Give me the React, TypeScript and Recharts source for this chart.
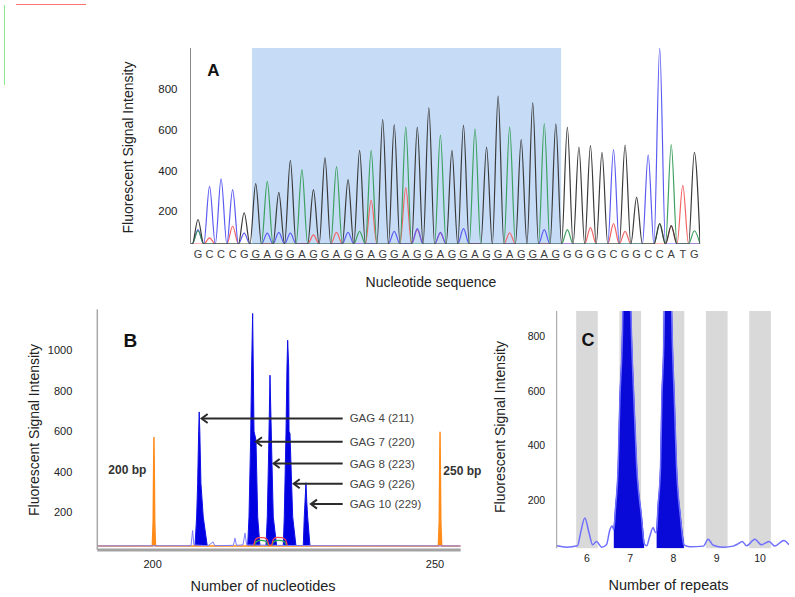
import React from "react";
import {
  LineChart,
  ComposedChart,
  Line,
  Area,
  XAxis,
  YAxis,
  ReferenceArea,
  ReferenceLine,
} from "recharts";

const FONT = '"Liberation Sans", Arial, Helvetica, sans-serif';
const W = 795;
const H = 597;

// ---------- Panel A: sequencing chromatogram ----------
// one base call per position, and the height of its peak
const seqLetters = ("GCCCG" + "GAGGAGGAGGAGGAGGAGGAGGAGGAG" + "GGGGCGGCCATG").split("");
const peakHeights = [
  160, 322, 359, 306, 193, 336, 347, 293, 450, 404, 306, 463, 419, 355, 499, 499,
  650, 625, 614, 612, 707, 573, 499, 622, 604, 515, 764, 614, 551, 731, 630, 628,
  612, 515, 522, 489, 502, 525, 268, 477, 1000, 527, 327, 489,
];
// small background peaks per dye: [position, height]
const minorG = [[40, 140], [41, 130]];
const minorA = [[0, 105], [14, 102], [32, 110], [40, 140], [43, 105]];
const minorC = [[0, 110], [4, 93], [6, 93], [7, 97], [8, 93], [13, 97], [17, 102], [19, 115], [21, 97], [23, 115], [30, 110]];
const minorT = [[1, 70], [3, 127], [10, 85], [12, 97], [15, 254], [18, 316], [19, 110], [21, 93], [27, 95], [34, 120], [36, 140], [37, 102], [41, 127]];
const repeatStart = 5;
const repeatEnd = 31;

const dyes = [
  { base: "T", color: "#f26464", minor: minorT },
  { base: "C", color: "#5b5bf2", minor: minorC },
  { base: "A", color: "#3ca05e", minor: minorA },
  { base: "G", color: "#3a3a3a", minor: minorG },
];
const A_BASE = 40;

function dyeTrace(base: string, minor: number[][]) {
  const pts = [{ x: -0.65, y: A_BASE }];
  seqLetters.forEach((b, i) => {
    let h = b === base ? peakHeights[i] : A_BASE;
    const m = minor.find(([j]) => j === i);
    if (m && m[1] > h) h = m[1];
    pts.push({ x: i - 0.5, y: A_BASE }, { x: i, y: h });
  });
  pts.push({ x: 43.5, y: A_BASE });
  return pts;
}

const SeqTick = (props: any) => {
  const { x, y, payload } = props;
  const i = payload.value as number;
  const inRepeat = i >= repeatStart && i <= repeatEnd;
  const groupEnd = inRepeat && (i - repeatStart) % 3 === 2;
  return (
    <g>
      <text x={x} y={y + 13.5} textAnchor="middle" fontSize={11} fill="#3c3c3c" fontFamily={FONT}>
        {seqLetters[i]}
      </text>
      {inRepeat && (
        <line x1={x - 5.8} x2={groupEnd ? x + 3.5 : x + 5.8} y1={y + 15.5} y2={y + 15.5} stroke="#444" strokeWidth={1} />
      )}
    </g>
  );
};

// ---------- Panel B: fragment sizing ----------
const bTicks = [200, 250];
const bBlueTrace = [
  [190.2, 35], [206.8, 36], [207.08, 111], [207.3, 40], [209.8, 36], [210.7, 55], [211.0, 36],
  [214.3, 38], [214.58, 73], [214.85, 38], [216.0, 40], [216.35, 98], [216.65, 40], [228.2, 36], [254.55, 35],
];
const bPeakGag4 = [[207.5, 35], [207.79, 178], [207.97, 343], [208.15, 600], [208.25, 695], [208.35, 600], [208.55, 343], [208.96, 178], [209.67, 35]];
const bPeakGag7 = [[216.83, 35], [217.06, 178], [217.35, 556], [217.53, 917], [217.71, 1180], [217.82, 917], [217.95, 600], [218.3, 556], [218.6, 178], [219.0, 35]];
const bPeakGag8 = [[220.07, 35], [220.3, 178], [220.55, 507], [220.78, 876], [221.08, 507], [221.36, 178], [221.96, 35]];
const bPeakGag9 = [[223.13, 35], [223.31, 178], [223.61, 589], [223.79, 917], [223.91, 1048], [224.09, 917], [224.15, 600], [224.32, 589], [224.8, 178], [225.38, 35]];
const bPeakGag10 = [[226.67, 35], [226.85, 178], [227.15, 346], [227.3, 250], [227.45, 178], [227.86, 35]];
const bSizeStd = [
  [190.2, 35], [199.95, 35], [200.1, 160], [200.23, 572], [200.36, 160], [200.5, 35],
  [250.6, 35], [250.76, 160], [250.89, 597], [251.02, 160], [251.18, 35], [254.55, 35],
];
const bRed = [[217.9, 36], [218.2, 66], [218.8, 76], [219.6, 76], [220.3, 66], [220.6, 38], [221.05, 38], [221.35, 66], [222.0, 77], [222.9, 76], [223.5, 66], [223.85, 38]];
const bGreen = [[218.0, 36], [218.3, 55], [219.2, 62], [220.1, 57], [220.5, 38], [221.1, 38], [221.4, 55], [222.3, 62], [223.3, 57], [223.7, 38]];
const gagLabels = ["GAG 4 (211)", "GAG 7 (220)", "GAG 8 (223)", "GAG 9 (226)", "GAG 10 (229)"];
const gagTipX = [208.5, 218.12, 221.25, 224.8, 227.86];
const gagArrowY = [663, 548, 441, 341, 241];
const ARROW_TAIL = 233.65;

// ---------- Panel C: repeat number ----------
const cTicks = [6, 7, 8, 9, 10];
const cLead = [[5.3, 31], [5.53, 26], [5.78, 31], [5.85, 77], [5.95, 133], [6.05, 77], [6.13, 35], [6.22, 47], [6.34, 26], [6.45, 35], [6.53, 90], [6.58, 104]];
const cPeak7 = [[6.62, 90], [6.66, 170], [6.72, 322], [6.76, 567], [6.82, 813], [6.86, 1200], [6.89, 1500], [6.93, 1500], [6.97, 1200], [7.03, 800], [7.085, 567], [7.15, 322], [7.26, 138], [7.32, 40]];
const cMid = [[7.38, 31], [7.45, 65], [7.53, 98], [7.58, 80]];
const cPeak8 = [[7.61, 80], [7.64, 170], [7.7, 322], [7.73, 567], [7.78, 813], [7.81, 1200], [7.84, 1500], [7.88, 1500], [7.92, 1200], [7.97, 800], [8.02, 567], [8.07, 322], [8.16, 138], [8.24, 35]];
const cTail = [[8.38, 28], [8.69, 30], [8.8, 55], [8.92, 33], [9.15, 26], [9.38, 30], [9.49, 38], [9.59, 47], [9.69, 31], [9.88, 55], [10.03, 35], [10.21, 47], [10.34, 30], [10.55, 51], [10.67, 35]];

const pts = (arr: number[][]) => arr.map(([x, y]) => ({ x, y }));

const arrowShape = (label: string) => (p: any) => {
  const { x1, y1, x2 } = p;
  return (
    <g>
      <line x1={x1} y1={y1} x2={x2 + 1} y2={y1} stroke="#2b2b2b" strokeWidth={2} />
      <polyline points={`${x2 + 7},${y1 - 4.5} ${x2 + 1},${y1} ${x2 + 7},${y1 + 4.5}`} fill="none" stroke="#2b2b2b" strokeWidth={2} />
      <text x={x1 + 7} y={y1 + 4} fontSize={11.5} fill="#444" fontFamily={FONT}>
        {label}
      </text>
    </g>
  );
};

const layer: React.CSSProperties = { position: "absolute", left: 0, top: 0 };

export default function App() {
  const tickStyle = { fontSize: 11.5, fill: "#222", fontFamily: FONT };
  return (
    <div style={{ position: "absolute", left: 0, top: 0, width: W, height: H, background: "#fff", overflow: "hidden" }}>
      <div style={{ position: "absolute", left: 16, top: 4, width: 70, height: 1, background: "#ff7070" }} />
      <div style={{ position: "absolute", left: 4, top: 5, width: 1, height: 80, background: "#90e890" }} />

      {/* A */}
      <div style={layer}>
        <LineChart width={W} height={H} margin={{ top: 48, right: 94.9, bottom: H - 244 - 30, left: 0 }}>
          <XAxis type="number" dataKey="x" domain={[-0.65, 43.5]} ticks={seqLetters.map((_, i) => i)} interval={0}
            tick={(p: any) => <SeqTick {...p} />} axisLine={false} tickLine={false} tickSize={0} tickMargin={0} height={30} allowDataOverflow />
          <YAxis type="number" domain={[A_BASE, 1000]} ticks={[200, 400, 600, 800]} width={190.5} allowDataOverflow
            axisLine={{ stroke: "#8a8a8a" }} tickLine={false} tickSize={0} tickMargin={13} tick={tickStyle} />
          <ReferenceArea x1={4.68} x2={31.46} fill="#c6dcf6" fillOpacity={1} stroke="none" />
          {dyes.map((d) => (
            <Line key={d.base} data={dyeTrace(d.base, d.minor)} dataKey="y" type="monotone" stroke={d.color}
              strokeWidth={1.2} dot={false} activeDot={false} isAnimationActive={false} />
          ))}
        </LineChart>
      </div>

      {/* B */}
      <div style={layer}>
        <ComposedChart width={W} height={H} margin={{ top: 309.4, right: 334.3, bottom: 17, left: 0 }}>
          <XAxis type="number" dataKey="x" domain={[190.2, 254.55]} ticks={bTicks} interval={0} allowDataOverflow
            axisLine={{ stroke: "#a3a3a3", strokeWidth: 3 }} tickLine={false} tickSize={0} tickMargin={10} height={30} tick={{ ...tickStyle, fontSize: 11 }} />
          <YAxis type="number" domain={[15, 1200]} ticks={[200, 400, 600, 800, 1000]} width={97.3} allowDataOverflow
            axisLine={{ stroke: "#a8a8a8", strokeWidth: 1.5 }} tickLine={false} tickSize={0} tickMargin={25} tick={{ ...tickStyle, fontSize: 11 }} />
          <Line data={pts(bBlueTrace)} dataKey="y" type="linear" stroke="#7b7bff" strokeWidth={1} dot={false} activeDot={false} isAnimationActive={false} />
          {[bPeakGag4, bPeakGag7, bPeakGag8, bPeakGag9, bPeakGag10].map((pk, i) => (
            <Area key={i} data={pts(pk)} dataKey="y" type="linear" baseValue={35} fill="#0000e0" fillOpacity={1}
              stroke="#1010e8" strokeWidth={1} dot={false} activeDot={false} isAnimationActive={false} />
          ))}
          <Line data={pts(bGreen)} dataKey="y" type="monotone" stroke="#2aa84a" strokeWidth={1.2} dot={false} activeDot={false} isAnimationActive={false} />
          <Line data={pts(bRed)} dataKey="y" type="monotone" stroke="#ff4848" strokeWidth={1.2} dot={false} activeDot={false} isAnimationActive={false} />
          <Area data={pts(bSizeStd)} dataKey="y" type="linear" baseValue={35} fill="#ff8c1a" fillOpacity={1}
            stroke="#ff8c1a" strokeWidth={1.5} dot={false} activeDot={false} isAnimationActive={false} />
          {gagLabels.map((lab, i) => (
            <ReferenceLine key={lab} segment={[{ x: ARROW_TAIL, y: gagArrowY[i] }, { x: gagTipX[i], y: gagArrowY[i] }]}
              shape={arrowShape(lab)} />
          ))}
        </ComposedChart>
      </div>

      {/* C */}
      <div style={layer}>
        <ComposedChart width={W} height={H} margin={{ top: 311, right: 6, bottom: 18.7, left: 0 }}>
          <XAxis type="number" dataKey="x" domain={[5.3, 10.67]} ticks={cTicks} interval={0} allowDataOverflow
            axisLine={false} tickLine={false} tickSize={0} tickMargin={6} height={30} tick={{ ...tickStyle, fontSize: 10.5 }} />
          <YAxis type="number" domain={[22, 894]} ticks={[200, 400, 600, 800]} width={556.7} allowDataOverflow
            axisLine={{ stroke: "#9a9a9a" }} tickLine={false} tickSize={0} tickMargin={11.5} tick={{ ...tickStyle, fontSize: 10.5 }} />
          {cTicks.map((n) => (
            <ReferenceArea key={n} x1={n - 0.25} x2={n + 0.25} fill="#d9d9d9" fillOpacity={1} stroke="none" />
          ))}
          <Line data={pts([...cLead, ...cPeak7, ...cMid, ...cPeak8, ...cTail])} dataKey="y" type="monotone" stroke="#6f6fff"
            strokeWidth={1.5} dot={false} activeDot={false} isAnimationActive={false} />
          {[cPeak7, cPeak8].map((pk, i) => (
            <Area key={i} data={pts(pk)} dataKey="y" type="monotone" baseValue={22} fill="#0a0ad8" fillOpacity={1}
              stroke="#0a0ad8" strokeWidth={1} dot={false} activeDot={false} isAnimationActive={false} />
          ))}
        </ComposedChart>
      </div>

      {/* titles and panel labels */}
      <svg width={W} height={H} style={{ ...layer, pointerEvents: "none" }} fontFamily={FONT}>
        <text x={213.3} y={76} textAnchor="middle" fontSize={17} fontWeight="bold" fill="#111">A</text>
        <text x={130.3} y={346.7} textAnchor="middle" fontSize={19} fontWeight="bold" fill="#111">B</text>
        <text x={588} y={346} textAnchor="middle" fontSize={18} fontWeight="bold" fill="#111">C</text>

        <text x={133} y={147.5} transform="rotate(-90 133 147.5)" textAnchor="middle" fontSize={14} fill="#222">Fluorescent Signal Intensity</text>
        <text x={39} y={430} transform="rotate(-90 39 430)" textAnchor="middle" fontSize={14} fill="#222">Fluorescent Signal Intensity</text>
        <text x={505} y={427} transform="rotate(-90 505 427)" textAnchor="middle" fontSize={14} fill="#222">Fluorescent Signal Intensity</text>

        <text x={431} y={287} textAnchor="middle" fontSize={14} fill="#222">Nucleotide sequence</text>
        <text x={263} y={590.5} textAnchor="middle" fontSize={14.5} fill="#222">Number of nucleotides</text>
        <text x={668.5} y={590} textAnchor="middle" fontSize={14.5} fill="#222">Number of repeats</text>

        <text x={108.3} y={473.5} fontSize={12} fontWeight="bold" fill="#333">200 bp</text>
        <text x={443.3} y={474.5} fontSize={12} fontWeight="bold" fill="#333">250 bp</text>
      </svg>
    </div>
  );
}
